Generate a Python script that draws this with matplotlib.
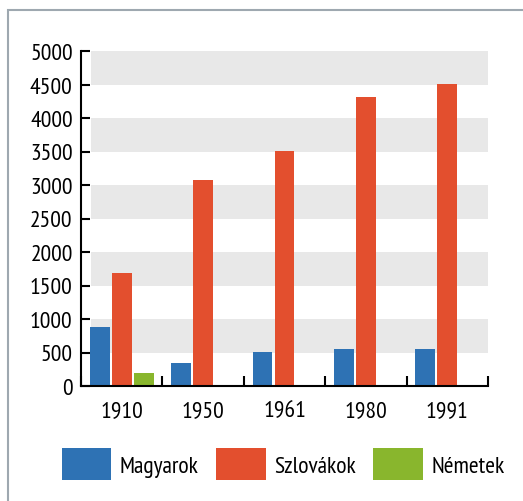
import matplotlib
matplotlib.use("Agg")
import matplotlib.pyplot as plt
import numpy as np
from matplotlib.patches import Rectangle, Patch

plt.rcParams["font.family"] = ["PT Sans Narrow", "Archivo Narrow", "DejaVu Sans"]

years = ["1910", "1950", "1961", "1980", "1991"]
series_names = ["Magyarok", "Szlovákok", "Németek"]
magyarok = [880, 345, 510, 555, 555]
szlovakok = [1680, 3075, 3505, 4315, 4505]
nemetek = [195, 5, 10, 10, 10]
y_ticks = [0, 500, 1000, 1500, 2000, 2500, 3000, 3500, 4000, 4500, 5000]

colors = ["#2e72b4", "#e34f2e", "#89b62d"]
FS = 17

fig = plt.figure(figsize=(5.23, 5.02), dpi=100)
fig.patch.set_facecolor("white")

# outer frame
fig.patches.append(Rectangle((8 / 523, -0.01), 1.0, 1 - 11 / 502 + 0.01,
                             transform=fig.transFigure, fill=False,
                             edgecolor="#9ea8b0", linewidth=1.5))

ax = fig.add_axes([81 / 523, 1 - 387 / 502, (488 - 81) / 523, (387 - 52) / 502])

# background bands
for lo in range(500, 5000, 1000):
    ax.axhspan(lo, lo + 500, xmin=0.025, xmax=1.0, color="#e8e8e8",
               linewidth=0, zorder=0)

x = np.arange(len(years))
w = 0.245
step = 0.27
for i, (vals, c) in enumerate(zip([magyarok, szlovakok, nemetek], colors)):
    ax.bar(x + (i - 1) * step, vals, width=w, color=c, zorder=2)

ax.set_xlim(-0.5, len(years) - 0.5)
ax.set_ylim(0, 5000)
ax.set_yticks(y_ticks)
ax.set_yticklabels([str(t) for t in y_ticks], fontsize=FS)
ax.tick_params(axis="y", direction="in", length=6.5, width=1.5, pad=6)

# group boundary ticks on x axis
ax.set_xticks(np.arange(-0.5, len(years), 1.0))
ax.set_xticklabels([])
ax.tick_params(axis="x", direction="in", length=7, width=1.5)
ax.set_xticks(x, minor=True)
ax.set_xticklabels(years, minor=True, fontsize=FS)
ax.tick_params(axis="x", which="minor", length=0, pad=10)

for s in ["top", "right"]:
    ax.spines[s].set_visible(False)
for s in ["left", "bottom"]:
    ax.spines[s].set_linewidth(1.5)
ax.set_facecolor("white")

# legend
handles = [Patch(facecolor=c, edgecolor="none") for c in colors]
fig.legend(handles, series_names, loc="center", ncol=3,
           bbox_to_anchor=(283 / 523, 1 - 465 / 502), frameon=False,
           fontsize=FS, handlelength=2.1, handleheight=1.65,
           handletextpad=0.35, columnspacing=0.75, borderpad=0,
           borderaxespad=0)

fig.savefig("out.png", dpi=100)
